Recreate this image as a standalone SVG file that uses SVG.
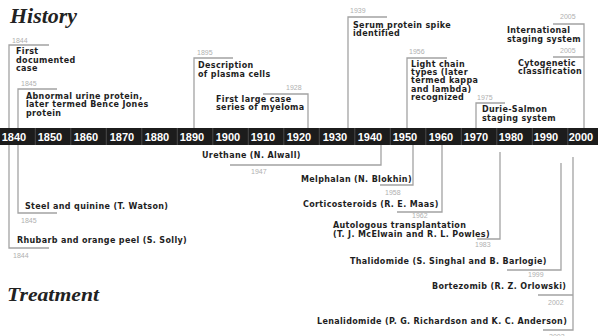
<svg xmlns="http://www.w3.org/2000/svg" width="598" height="336" viewBox="0 0 598 336">
<style>
.ln{stroke:#a3a3a3;stroke-width:1.3;fill:none}
.yr{font-family:"Liberation Sans",Arial,sans-serif;font-size:7px;fill:#b0b0b0}
.lb{font-family:"DejaVu Sans",Verdana,sans-serif;font-size:8px;font-weight:bold;fill:#1e1e1e;letter-spacing:0.35px}
.tl{font-family:"Liberation Sans",Arial,sans-serif;font-size:11px;font-weight:bold;fill:#fff;text-anchor:middle}
.tt{font-family:"Liberation Serif","Times New Roman",serif;font-style:italic;font-weight:bold;fill:#222}
.sep{stroke:#4a4a4a;stroke-width:1}
</style>
<rect width="598" height="336" fill="#fff"/>
<g id="titles">
<text class="tt" x="10" y="23" font-size="20" textLength="67" lengthAdjust="spacingAndGlyphs">History</text>
<text class="tt" x="7" y="301" font-size="19" textLength="92" lengthAdjust="spacingAndGlyphs">Treatment</text>
</g>
<g id="connectors">
<path class="ln" d="M49,45H9V248H49"/>
<path class="ln" d="M57,89H18V213H57"/>
<path class="ln" d="M233,58H194V128"/>
<path class="ln" d="M263,94H308V128"/>
<path class="ln" d="M387,17H348V128"/>
<path class="ln" d="M447,58H407V128"/>
<path class="ln" d="M505,103H476V128"/>
<path class="ln" d="M553,24H584V128M553,57H584"/>
<path class="ln" d="M381,145V165H230"/>
<path class="ln" d="M413,145V185H380"/>
<path class="ln" d="M442,145V212H397"/>
<path class="ln" d="M500,152V239H477"/>
<path class="ln" d="M561,163V270H507"/>
<path class="ln" d="M573,157V330H543M573,295H538"/>
</g>
<g id="timeline">
<rect x="0" y="128" width="598" height="17" fill="#1c1c1c"/>
<g class="sep">
<line x1="35.3" y1="128" x2="35.3" y2="145"/><line x1="70.8" y1="128" x2="70.8" y2="145"/><line x1="106.3" y1="128" x2="106.3" y2="145"/><line x1="141.8" y1="128" x2="141.8" y2="145"/><line x1="177.3" y1="128" x2="177.3" y2="145"/><line x1="212.8" y1="128" x2="212.8" y2="145"/><line x1="248.3" y1="128" x2="248.3" y2="145"/><line x1="283.8" y1="128" x2="283.8" y2="145"/><line x1="319.3" y1="128" x2="319.3" y2="145"/><line x1="354.8" y1="128" x2="354.8" y2="145"/><line x1="390.3" y1="128" x2="390.3" y2="145"/><line x1="425.8" y1="128" x2="425.8" y2="145"/><line x1="461.3" y1="128" x2="461.3" y2="145"/><line x1="496.8" y1="128" x2="496.8" y2="145"/><line x1="532.3" y1="128" x2="532.3" y2="145"/><line x1="567.8" y1="128" x2="567.8" y2="145"/>
</g>
<text class="tl" x="14" y="141">1840</text><text class="tl" x="50" y="141">1850</text><text class="tl" x="86" y="141">1860</text><text class="tl" x="122" y="141">1870</text><text class="tl" x="157" y="141">1880</text><text class="tl" x="192" y="141">1890</text><text class="tl" x="228" y="141">1900</text><text class="tl" x="263" y="141">1910</text><text class="tl" x="299" y="141">1920</text><text class="tl" x="335" y="141">1930</text><text class="tl" x="370" y="141">1940</text><text class="tl" x="405" y="141">1950</text><text class="tl" x="441" y="141">1960</text><text class="tl" x="476" y="141">1970</text><text class="tl" x="511" y="141">1980</text><text class="tl" x="546" y="141">1990</text><text class="tl" x="581" y="141">2000</text>
</g>
<g id="h1844"><text class="yr" x="12" y="43">1844</text><text class="lb" x="16" y="54">First</text><text class="lb" x="16" y="63">documented</text><text class="lb" x="16" y="71">case</text></g>
<g id="h1845"><text class="yr" x="21" y="86">1845</text><text class="lb" x="26" y="99">Abnormal urine protein,</text><text class="lb" x="26" y="107">later termed Bence Jones</text><text class="lb" x="26" y="116">protein</text></g>
<g id="h1895"><text class="yr" x="197" y="55">1895</text><text class="lb" x="198" y="68">Description</text><text class="lb" x="198" y="77">of plasma cells</text></g>
<g id="h1928"><text class="yr" x="286" y="90">1928</text><text class="lb" x="216" y="102">First large case</text><text class="lb" x="216" y="110">series of myeloma</text></g>
<g id="h1939"><text class="yr" x="350" y="13">1939</text><text class="lb" x="353" y="28">Serum protein spike</text><text class="lb" x="353" y="36">identified</text></g>
<g id="h1956"><text class="yr" x="409" y="54">1956</text><text class="lb" x="411" y="67">Light chain</text><text class="lb" x="411" y="75">types (later</text><text class="lb" x="411" y="83">termed kappa</text><text class="lb" x="411" y="92">and lambda)</text><text class="lb" x="411" y="100">recognized</text></g>
<g id="h1975"><text class="yr" x="477" y="100">1975</text><text class="lb" x="482" y="112">Durie-Salmon</text><text class="lb" x="482" y="121">staging system</text></g>
<g id="h2005a"><text class="yr" x="560" y="19">2005</text><text class="lb" x="507" y="33">International</text><text class="lb" x="507" y="42">staging system</text></g>
<g id="h2005b"><text class="yr" x="560" y="53">2005</text><text class="lb" x="518" y="66">Cytogenetic</text><text class="lb" x="518" y="74">classification</text></g>
<g id="t1845"><text class="lb" x="25" y="209">Steel and quinine (T. Watson)</text><text class="yr" x="21" y="223">1845</text></g>
<g id="t1844"><text class="lb" x="17" y="243">Rhubarb and orange peel (S. Solly)</text><text class="yr" x="13" y="258">1844</text></g>
<g id="t1947"><text class="lb" x="202" y="158">Urethane (N. Alwall)</text><text class="yr" x="251" y="174">1947</text></g>
<g id="t1958"><text class="lb" x="301" y="182">Melphalan (N. Blokhin)</text><text class="yr" x="385" y="195">1958</text></g>
<g id="t1962"><text class="lb" x="303" y="207">Corticosteroids (R. E. Maas)</text><text class="yr" x="412" y="218">1962</text></g>
<g id="t1983"><text class="lb" x="333" y="228">Autologous transplantation</text><text class="lb" x="333" y="237">(T. J. McElwain and R. L. Powles)</text><text class="yr" x="475" y="247">1983</text></g>
<g id="t1999"><text class="lb" x="350" y="264">Thalidomide (S. Singhal and B. Barlogie)</text><text class="yr" x="528" y="277">1999</text></g>
<g id="t2002a"><text class="lb" x="432" y="289">Bortezomib (R. Z. Orlowski)</text><text class="yr" x="548" y="305">2002</text></g>
<g id="t2002b"><text class="lb" x="317" y="324">Lenalidomide (P. G. Richardson and K. C. Anderson)</text><text class="yr" x="549" y="339">2002</text></g>
</svg>
